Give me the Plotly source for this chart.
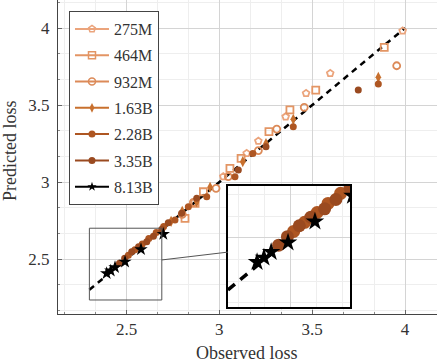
import plotly.graph_objects as go

# ---- data (observed loss, predicted loss) ----
series_names = ["275M", "464M", "932M", "1.63B", "2.28B", "3.35B", "8.13B"]
series_colors = ["#EBA47C", "#E39564", "#DC8A58", "#C8702E", "#AE5622", "#9A4A20", "#000000"]
series_symbols = ["pentagon-open", "square-open", "circle-open", "diamond-tall", "circle", "circle", "star"]

obs_275M = [3.987, 3.597, 3.467, 3.357, 3.210, 3.147, 3.021]
pred_275M = [3.982, 3.706, 3.576, 3.424, 3.266, 3.186, 3.035]

obs_464M = [3.888, 3.519, 3.380, 3.267, 3.117, 3.057, 2.914, 2.869, 2.815]
pred_464M = [3.875, 3.597, 3.468, 3.327, 3.154, 3.089, 2.937, 2.862, 2.764]

obs_932M = [3.955, 3.457, 3.309, 3.210, 3.048, 2.982, 2.860, 2.800]
pred_932M = [3.755, 3.485, 3.344, 3.204, 3.035, 2.959, 2.868, 2.790]

obs_163B = [3.856, 3.398, 3.251, 3.126, 2.950, 2.878, 2.800, 2.740]
pred_163B = [3.680, 3.407, 3.250, 3.132, 2.966, 2.872, 2.810, 2.745]

obs_228B = [3.856, 3.398, 3.180, 3.084, 2.932, 2.833, 2.761, 2.700, 2.660, 2.620, 2.585, 2.545, 2.510]
pred_228B = [3.636, 3.359, 3.186, 3.035, 2.905, 2.840, 2.753, 2.712, 2.672, 2.633, 2.598, 2.560, 2.525]

obs_335B = [3.748, 3.251, 3.102, 2.878, 2.797, 2.725, 2.690, 2.645, 2.609, 2.565, 2.528, 2.490, 2.462]
pred_335B = [3.597, 3.229, 3.078, 2.894, 2.797, 2.736, 2.693, 2.648, 2.612, 2.580, 2.547, 2.505, 2.472]

obs_813B = [2.393, 2.415, 2.438, 2.492, 2.578, 2.698]
pred_813B = [2.407, 2.424, 2.446, 2.482, 2.563, 2.662]

diag = [2.3, 4.0]
x_ticks = [2.5, 3, 3.5, 4]
x_tick_labels = ["2.5", "3", "3.5", "4"]
y_ticks = [2.5, 3, 3.5, 4]
y_tick_labels = ["2.5", "3", "3.5", "4"]

zoom_x = [2.30, 2.69]
zoom_y = [2.234, 2.70]

all_obs = [obs_275M, obs_464M, obs_932M, obs_163B, obs_228B, obs_335B, obs_813B]
all_pred = [pred_275M, pred_464M, pred_932M, pred_163B, pred_228B, pred_335B, pred_813B]

FONT = "Liberation Serif"
TXT = "#333333"

fig = go.Figure()

# diagonal
fig.add_trace(go.Scatter(x=diag, y=diag, mode="lines", showlegend=False,
                         line=dict(color="black", width=2.5, dash="6px,5px"),
                         xaxis="x", yaxis="y", hoverinfo="skip"))
fig.add_trace(go.Scatter(x=diag, y=diag, mode="lines", showlegend=False,
                         line=dict(color="black", width=3.5, dash="9px,7px"),
                         xaxis="x2", yaxis="y2", hoverinfo="skip"))

main_sizes = [7, 7, 7, 8, 7, 7, 10]
inset_sizes = [12, 12, 12, 14, 13, 13, 14]
for name, col, sym, ox, py, ms, isz in zip(series_names, series_colors, series_symbols,
                                           all_obs, all_pred, main_sizes, inset_sizes):
    open_ = sym.endswith("-open")
    fig.add_trace(go.Scatter(x=ox, y=py, mode="markers", showlegend=False,
                             marker=dict(symbol=sym, size=ms, color=col,
                                         line=dict(color=col, width=1.8 if open_ else 0)),
                             xaxis="x", yaxis="y"))
    fig.add_trace(go.Scatter(x=ox, y=py, mode="markers", showlegend=False,
                             marker=dict(symbol=sym, size=isz, color=col,
                                         line=dict(color=col, width=2.5 if open_ else 0)),
                             xaxis="x2", yaxis="y2", cliponaxis=True))
    # legend entry
    fig.add_trace(go.Scatter(x=[None], y=[None], mode="lines+markers", name=name,
                             legendgroup=name,
                             line=dict(color=col, width=2),
                             marker=dict(symbol=sym, size=7, color=col,
                                         line=dict(color=col, width=1.5 if open_ else 0)),
                             xaxis="x", yaxis="y"))

grid_major = "#d4d4d4"
grid_minor = "#eeeeee"

fig.update_layout(
    width=437, height=362,
    margin=dict(l=58, r=0, t=0, b=48, autoexpand=False),
    paper_bgcolor="white", plot_bgcolor="white",
    font=dict(family=FONT, size=16, color=TXT),
    showlegend=True,
    legend=dict(x=0.029, y=0.965, xanchor="left", yanchor="top",
                bgcolor="white", bordercolor="#444444", borderwidth=1,
                font=dict(family=FONT, size=16, color=TXT),
                traceorder="grouped", tracegroupgap=2.5, itemwidth=34),
    xaxis=dict(domain=[0, 1], range=[2.131, 4.172], tickvals=x_ticks, ticktext=x_tick_labels,
               automargin=False,
               showgrid=True, gridcolor=grid_major, gridwidth=1, zeroline=False,
               showline=True, linecolor="#444444", linewidth=1,
               ticks="inside", ticklen=4, tickcolor="#666666",
               minor=dict(dtick=0.5 / 3, tick0=0, showgrid=True, gridcolor=grid_minor,
                          ticks="inside", ticklen=2, tickcolor="#888888"),
               tickfont=dict(family=FONT, size=17, color=TXT), anchor="y"),
    yaxis=dict(domain=[0, 1], range=[2.143, 4.182], tickvals=y_ticks, ticktext=y_tick_labels,
               automargin=False,
               showgrid=True, gridcolor=grid_major, gridwidth=1, zeroline=False,
               showline=True, linecolor="#444444", linewidth=1,
               ticks="inside", ticklen=4, tickcolor="#666666",
               minor=dict(dtick=0.5 / 3, tick0=0, showgrid=True, gridcolor=grid_minor,
                          ticks="inside", ticklen=2, tickcolor="#888888"),
               tickfont=dict(family=FONT, size=17, color=TXT), ticklabelstandoff=4,
               anchor="x"),
    xaxis2=dict(domain=[0.4485, 0.7704], range=zoom_x, anchor="y2", automargin=False,
                showticklabels=False, ticks="", dtick=0.5, tick0=0,
                showgrid=True, gridcolor=grid_major, zeroline=False,
                showline=True, mirror=True, linecolor="black", linewidth=2,
                minor=dict(dtick=1 / 12, tick0=0, showgrid=True, gridcolor=grid_minor)),
    yaxis2=dict(domain=[0.0223, 0.4076], range=zoom_y, anchor="x2", automargin=False,
                showticklabels=False, ticks="", dtick=0.5, tick0=0,
                showgrid=True, gridcolor=grid_major, zeroline=False,
                showline=True, mirror=True, linecolor="black", linewidth=2,
                minor=dict(dtick=1 / 12, tick0=0, showgrid=True, gridcolor=grid_minor)),
)

# zoom box on the main axes and its connector to the inset
fig.add_shape(type="rect", xref="x", yref="y", x0=zoom_x[0], x1=zoom_x[1], y0=zoom_y[0], y1=zoom_y[1],
              line=dict(color="#555555", width=1))
fig.add_shape(type="line", xref="x", yref="y", x0=zoom_x[1], y0=2.494, x1=3.047, y1=2.545,
              line=dict(color="#555555", width=1))

# axis titles
fig.add_annotation(text="Observed loss", xref="paper", yref="paper", x=0.4987, y=-0.124,
                   showarrow=False, font=dict(family=FONT, size=18, color=TXT),
                   xanchor="center", yanchor="middle")
fig.add_annotation(text="Predicted loss", xref="paper", yref="paper", x=-0.127, y=0.522,
                   showarrow=False, textangle=-90, font=dict(family=FONT, size=18, color=TXT),
                   xanchor="center", yanchor="middle")

fig.write_html("out.html", config={"displayModeBar": False},
               post_script="document.body.style.margin='0px';document.body.style.overflow='hidden';")
